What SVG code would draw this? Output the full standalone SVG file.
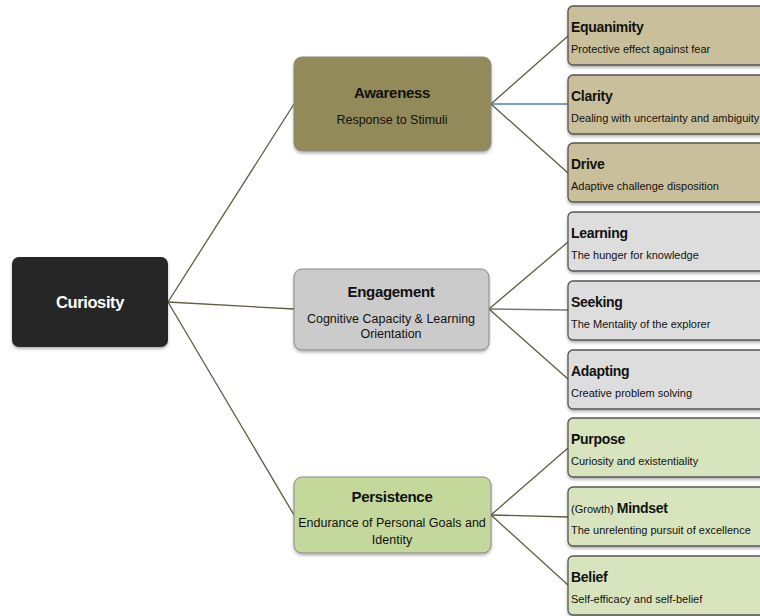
<svg xmlns="http://www.w3.org/2000/svg" width="760" height="616" viewBox="0 0 760 616">
<defs>
<filter id="sh" x="-10%" y="-10%" width="130%" height="140%">
<feDropShadow dx="0" dy="2" stdDeviation="1.5" flood-color="#000" flood-opacity="0.3"/>
</filter>
</defs>
<style>
text{font-family:"Liberation Sans",Arial,sans-serif;fill:#111}
.t{font-size:14px;font-weight:bold;letter-spacing:-0.3px}
.s{font-size:11px}
.mt{font-size:15px;font-weight:bold;text-anchor:middle;letter-spacing:-0.3px}
.ms{font-size:12.5px;text-anchor:middle}
.leaf{stroke:#555;stroke-width:1.3}
.mid{stroke:#888;stroke-width:1}
.c{fill:none;stroke:#5f5c40;stroke-width:1.3}
</style>
<rect width="760" height="616" fill="#fff"/>
<g id="connectors">
<line class="c" x1="168" y1="302" x2="294" y2="104"/>
<line class="c" x1="168" y1="302" x2="294" y2="309"/>
<line class="c" x1="168" y1="302" x2="294" y2="515"/>
<line class="c" x1="491" y1="104" x2="568" y2="36"/>
<line class="c" x1="491" y1="104" x2="568" y2="104" style="stroke:#4f81bd"/>
<line class="c" x1="491" y1="104" x2="568" y2="173"/>
<line class="c" x1="489" y1="309" x2="568" y2="242"/>
<line class="c" x1="489" y1="309" x2="568" y2="310" style="stroke:#777"/>
<line class="c" x1="489" y1="309" x2="568" y2="379"/>
<line class="c" x1="491" y1="515" x2="568" y2="448"/>
<line class="c" x1="491" y1="515" x2="568" y2="517"/>
<line class="c" x1="491" y1="515" x2="568" y2="585"/>
</g>
<g id="curiosity">
<rect x="12" y="257" width="156" height="90" rx="7" fill="#262626" filter="url(#sh)"/>
<text x="90" y="308" style="font-size:16.5px;font-weight:bold;fill:#fff;text-anchor:middle;letter-spacing:-0.4px">Curiosity</text>
</g>
<g id="awareness">
<rect class="mid" x="294" y="57" width="197" height="94" rx="8" fill="#928a58" filter="url(#sh)"/>
<text class="mt" x="392" y="98">Awareness</text>
<text class="ms" x="392" y="124">Response to Stimuli</text>
</g>
<g id="engagement">
<rect class="mid" x="294" y="269" width="195" height="81" rx="8" fill="#cbcbcb" filter="url(#sh)"/>
<text class="mt" x="391" y="297">Engagement</text>
<text class="ms" x="391" y="323">Cognitive Capacity &amp; Learning</text>
<text class="ms" x="391" y="338">Orientation</text>
</g>
<g id="persistence">
<rect class="mid" x="294" y="477" width="197" height="76" rx="8" fill="#c5d89c" filter="url(#sh)"/>
<text class="mt" x="392" y="502">Persistence</text>
<text class="ms" x="392" y="527">Endurance of Personal Goals and</text>
<text class="ms" x="392" y="544">Identity</text>
</g>
<g id="equanimity">
<rect class="leaf" x="568" y="6" width="200" height="59" rx="5" fill="#c9c09b" filter="url(#sh)"/>
<text class="t" x="571" y="32">Equanimity</text>
<text class="s" x="571" y="53">Protective effect against fear</text>
</g>
<g id="clarity">
<rect class="leaf" x="568" y="75" width="200" height="59" rx="5" fill="#c9c09b" filter="url(#sh)"/>
<text class="t" x="571" y="101">Clarity</text>
<text class="s" x="571" y="122">Dealing with uncertainty and ambiguity</text>
</g>
<g id="drive">
<rect class="leaf" x="568" y="143" width="200" height="59" rx="5" fill="#c9c09b" filter="url(#sh)"/>
<text class="t" x="571" y="169">Drive</text>
<text class="s" x="571" y="190">Adaptive challenge disposition</text>
</g>
<g id="learning">
<rect class="leaf" x="568" y="212" width="200" height="59" rx="5" fill="#dddddd" filter="url(#sh)"/>
<text class="t" x="571" y="238">Learning</text>
<text class="s" x="571" y="259">The hunger for knowledge</text>
</g>
<g id="seeking">
<rect class="leaf" x="568" y="281" width="200" height="59" rx="5" fill="#dddddd" filter="url(#sh)"/>
<text class="t" x="571" y="307">Seeking</text>
<text class="s" x="571" y="328">The Mentality of the explorer</text>
</g>
<g id="adapting">
<rect class="leaf" x="568" y="350" width="200" height="59" rx="5" fill="#dddddd" filter="url(#sh)"/>
<text class="t" x="571" y="376">Adapting</text>
<text class="s" x="571" y="397">Creative problem solving</text>
</g>
<g id="purpose">
<rect class="leaf" x="568" y="418" width="200" height="59" rx="5" fill="#d8e4bd" filter="url(#sh)"/>
<text class="t" x="571" y="444">Purpose</text>
<text class="s" x="571" y="465">Curiosity and existentiality</text>
</g>
<g id="mindset">
<rect class="leaf" x="568" y="487" width="200" height="59" rx="5" fill="#d8e4bd" filter="url(#sh)"/>
<text x="571" y="513"><tspan class="s">(Growth) </tspan><tspan class="t">Mindset</tspan></text>
<text class="s" x="571" y="534">The unrelenting pursuit of excellence</text>
</g>
<g id="belief">
<rect class="leaf" x="568" y="556" width="200" height="59" rx="5" fill="#d8e4bd" filter="url(#sh)"/>
<text class="t" x="571" y="582">Belief</text>
<text class="s" x="571" y="603">Self-efficacy and self-belief</text>
</g>
</svg>
